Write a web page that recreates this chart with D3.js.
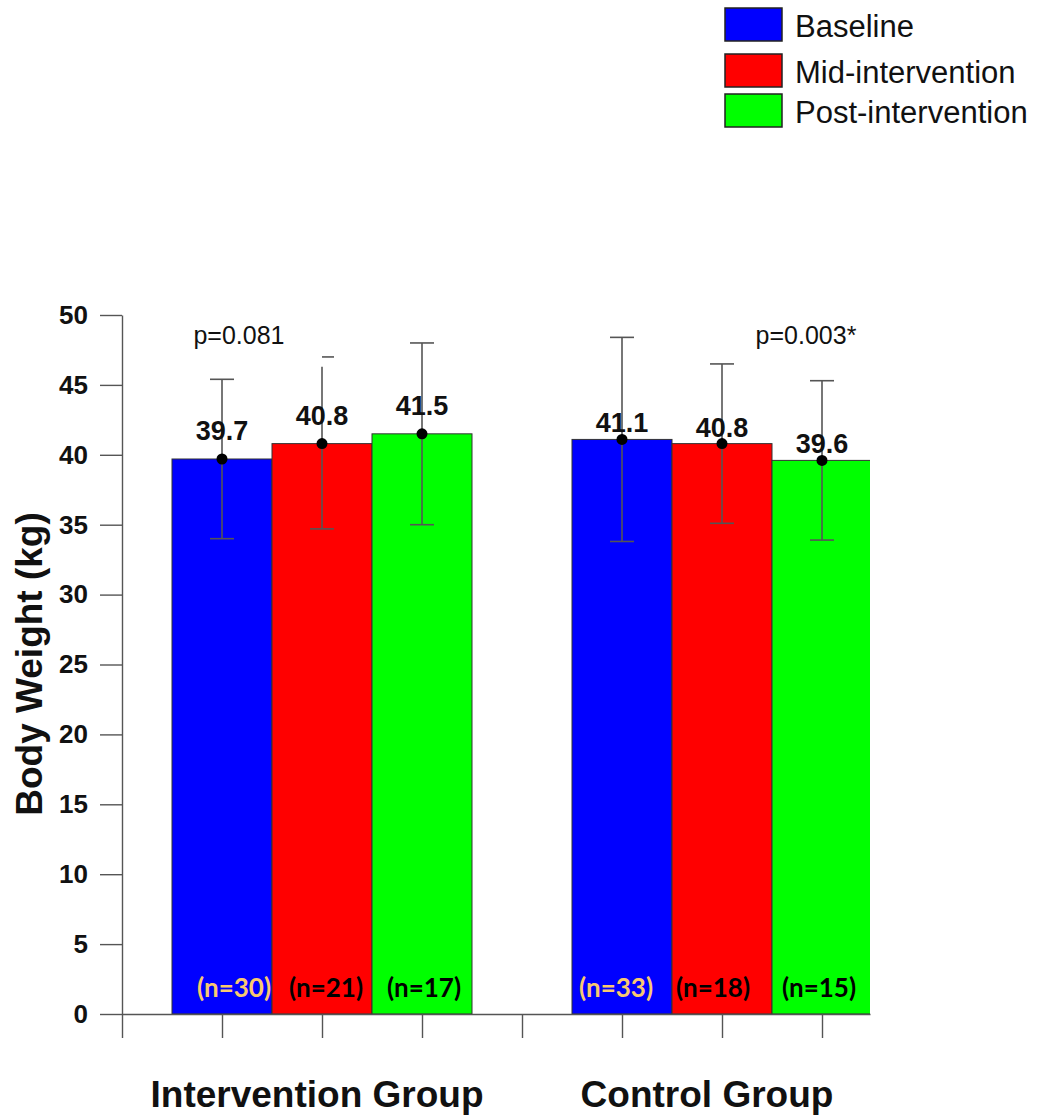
<!DOCTYPE html>
<html><head><meta charset="utf-8">
<script src="https://cdn.jsdelivr.net/npm/d3@7"></script>
<style>body{margin:0;background:#fff}svg{display:block}</style>
</head><body>
<script>
// ---- data ----
const groups = ["Intervention Group", "Control Group"];
const phases = ["Baseline", "Mid-intervention", "Post-intervention"];
const colors = ["#0000ff", "#ff0000", "#00ff00"];
const means = [[39.7, 40.8, 41.5], [41.1, 40.8, 39.6]];
const upper = [[45.4, 46.3, 48.0], [48.4, 46.5, 45.3]];
const lower = [[34.0, 34.7, 35.0], [33.8, 35.1, 33.9]];
const capTop = [[45.4, 47.0, 48.0], [48.4, 46.5, 45.3]];
const nLabels = [["(n=30)", "(n=21)", "(n=17)"], ["(n=33)", "(n=18)", "(n=15)"]];
const pLabels = ["p=0.081", "p=0.003*"];
const yTicks = [0, 5, 10, 15, 20, 25, 30, 35, 40, 45, 50];

// ---- layout ----
const W = 1042, H = 1118;
const svg = d3.select("body").append("svg").attr("width", W).attr("height", H)
  .style("font-family", "Arial, 'Liberation Sans', sans-serif");

const x = d3.scaleLinear().domain([0, 7.48]).range([122, 870]);
const y = d3.scaleLinear().domain([0, 50]).range([1014, 315]);

const center = (g, i) => g * 4 + 1 + i;

svg.append("defs").append("clipPath").attr("id", "plotclip")
  .append("rect").attr("x", 122).attr("y", 0).attr("width", 748).attr("height", 1014);

const plot = svg.append("g").attr("clip-path", "url(#plotclip)");

const items = [];
groups.forEach((g, gi) => phases.forEach((p, pi) => items.push({gi, pi})));

plot.selectAll("rect.bar").data(items).join("rect")
  .attr("class", "bar")
  .attr("x", d => x(center(d.gi, d.pi) - 0.5))
  .attr("width", x(1) - x(0))
  .attr("y", d => y(means[d.gi][d.pi]))
  .attr("height", d => y(0) - y(means[d.gi][d.pi]))
  .attr("fill", d => colors[d.pi])
  .attr("stroke", "#333").attr("stroke-width", 1);

// error bars
const eb = svg.append("g").attr("stroke", "#555").attr("stroke-width", 1.6);
eb.selectAll("line.v").data(items).join("line")
  .attr("x1", d => x(center(d.gi, d.pi))).attr("x2", d => x(center(d.gi, d.pi)))
  .attr("y1", d => y(upper[d.gi][d.pi])).attr("y2", d => y(lower[d.gi][d.pi]));
eb.selectAll("line.ct").data(items).join("line")
  .attr("x1", d => x(center(d.gi, d.pi)) - (capTop[d.gi][d.pi] === upper[d.gi][d.pi] ? 12 : 0))
  .attr("x2", d => x(center(d.gi, d.pi)) + 12)
  .attr("y1", d => y(capTop[d.gi][d.pi])).attr("y2", d => y(capTop[d.gi][d.pi]));
eb.selectAll("line.cb").data(items).join("line")
  .attr("x1", d => x(center(d.gi, d.pi)) - 12).attr("x2", d => x(center(d.gi, d.pi)) + 12)
  .attr("y1", d => y(lower[d.gi][d.pi])).attr("y2", d => y(lower[d.gi][d.pi]));

// mean dots
svg.selectAll("circle.m").data(items).join("circle")
  .attr("cx", d => x(center(d.gi, d.pi))).attr("cy", d => y(means[d.gi][d.pi]))
  .attr("r", 5.5).attr("fill", "#000");

// value labels
const labOff = [19, 7];
svg.selectAll("text.val").data(items).join("text")
  .attr("x", d => x(center(d.gi, d.pi)))
  .attr("y", d => y(means[d.gi][d.pi]) - labOff[d.gi])
  .attr("text-anchor", "middle").attr("font-size", 27).attr("font-weight", "bold")
  .attr("fill", "#111")
  .text(d => means[d.gi][d.pi].toFixed(1));

// n labels
const nDx = [[12, 4, 2], [-6, -9, -3]];
svg.selectAll("text.n").data(items).join("text")
  .attr("x", d => x(center(d.gi, d.pi)) + nDx[d.gi][d.pi])
  .attr("y", y(0) - 17)
  .attr("text-anchor", "middle").attr("font-size", 26).attr("font-weight", "bold")
  .style("font-family", "Lato, 'Open Sans', sans-serif")
  .attr("fill", d => d.pi === 0 ? "#f8c870" : "#000")
  .text(d => nLabels[d.gi][d.pi]);

// p labels
svg.selectAll("text.p").data(pLabels).join("text")
  .attr("x", (d, i) => i === 0 ? 239 : 806)
  .attr("y", 344)
  .attr("text-anchor", "middle").attr("font-size", 25).attr("fill", "#111")
  .text(d => d);

// y axis
const yAxis = d3.axisLeft(y).tickValues(yTicks).tickSize(22).tickPadding(12).tickSizeOuter(0);
const gy = svg.append("g").attr("transform", "translate(122,0)").call(yAxis);
gy.select(".domain").attr("stroke", "#555").attr("stroke-width", 1.4);
gy.selectAll(".tick line").attr("stroke", "#555").attr("stroke-width", 1.4);
gy.selectAll(".tick text").attr("font-size", 26).attr("font-weight", "bold")
  .attr("fill", "#111").style("font-family", "Arial, 'Liberation Sans', sans-serif");

// x axis
const xAxis = d3.axisBottom(x).tickValues(d3.range(0, 8)).tickSize(24).tickFormat("").tickSizeOuter(0);
const gx = svg.append("g").attr("transform", "translate(0,1014)").call(xAxis);
gx.select(".domain").attr("stroke", "#555").attr("stroke-width", 1.4);
gx.selectAll(".tick line").attr("stroke", "#555").attr("stroke-width", 1.4);

// group labels
const gPos = [317, 707];
svg.selectAll("text.g").data(groups).join("text")
  .attr("x", (d, i) => gPos[i]).attr("y", 1107)
  .attr("text-anchor", "middle").attr("font-size", 37).attr("font-weight", "bold")
  .attr("fill", "#111").text(d => d);

// y title
svg.append("text")
  .attr("transform", "translate(42,664) rotate(-90)")
  .attr("text-anchor", "middle").attr("font-size", 37).attr("font-weight", "bold")
  .attr("fill", "#111").text("Body Weight (kg)");

// legend
const legY = [8, 54, 94];
const leg = svg.append("g");
phases.forEach((p, i) => {
  leg.append("rect").attr("x", 725).attr("y", legY[i]).attr("width", 57).attr("height", 33)
    .attr("fill", colors[i]).attr("stroke", "#222").attr("stroke-width", 1.5);
  leg.append("text").attr("x", 795).attr("y", legY[i] + 29)
    .attr("font-size", 31).attr("fill", "#111").text(p);
});
</script>
</body></html>
